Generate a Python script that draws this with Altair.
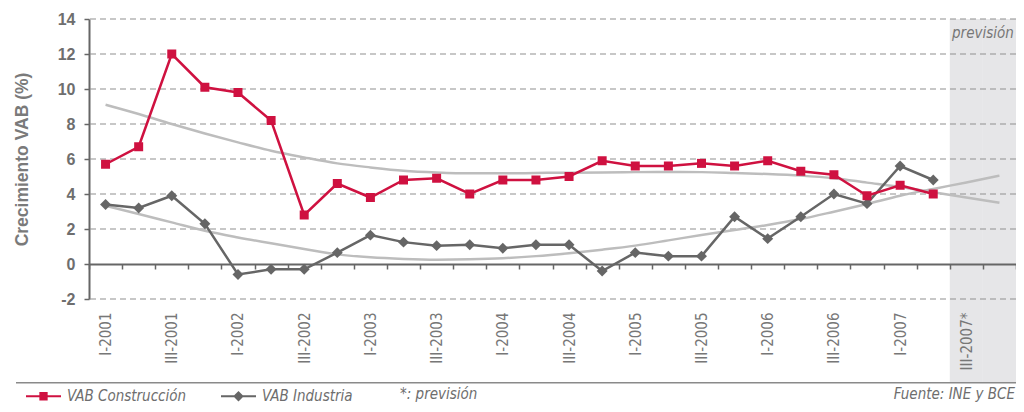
import altair as alt
import pandas as pd

quarters = [
    "I-2001", "II-2001", "III-2001", "IV-2001",
    "I-2002", "II-2002", "III-2002", "IV-2002",
    "I-2003", "II-2003", "III-2003", "IV-2003",
    "I-2004", "II-2004", "III-2004", "IV-2004",
    "I-2005", "II-2005", "III-2005", "IV-2005",
    "I-2006", "II-2006", "III-2006", "IV-2006",
    "I-2007", "II-2007", "III-2007*", "IV-2007*",
]
shown_labels = ["I-2001", "III-2001", "I-2002", "III-2002", "I-2003", "III-2003", "I-2004",
                "III-2004", "I-2005", "III-2005", "I-2006", "III-2006", "I-2007", "III-2007*"]
construccion = [5.7, 6.7, 12.0, 10.1, 9.8, 8.2, 2.8, 4.6, 3.8, 4.8, 4.9, 4.0, 4.8,
                4.8, 5.0, 5.9, 5.6, 5.6, 5.75, 5.6, 5.9, 5.3, 5.1, 3.9, 4.5, 4.0]
industria = [3.4, 3.2, 3.9, 2.3, -0.6, -0.3, -0.3, 0.65, 1.65, 1.25, 1.05, 1.1, 0.9,
             1.1, 1.1, -0.4, 0.65, 0.45, 0.45, 2.7, 1.45, 2.7, 4.0, 3.45, 5.6, 4.8]
tend_construccion = [9.1, 8.57, 8.0, 7.46, 6.95, 6.47, 6.09, 5.75, 5.52, 5.33, 5.23, 5.18,
                     5.18, 5.2, 5.22, 5.23, 5.25, 5.26, 5.25, 5.2, 5.14, 5.05, 4.9, 4.65,
                     4.4, 4.1, 3.8, 3.5]
tend_industria = [3.33, 2.86, 2.38, 1.9, 1.52, 1.18, 0.86, 0.55, 0.38, 0.29, 0.25, 0.27,
                  0.33, 0.45, 0.62, 0.82, 1.05, 1.35, 1.66, 1.94, 2.23, 2.57, 2.99, 3.43,
                  3.9, 4.29, 4.66, 5.05]
series_names = ["VAB Construcción", "VAB Industria"]
y_ticks = [-2, 0, 2, 4, 6, 8, 10, 12, 14]
grid_values = [-2, 2, 4, 6, 8, 10, 12, 14]
prevision_quarters = ["III-2007*", "IV-2007*"]
prevision_top = 14
prevision_bottom = -6.8

RED = "#cf1140"
GRAY = "#666666"
TREND = "#bdbdbd"
TXT = "#6e6e6e"
NARROW = "DejaVu Sans Condensed"
SANS = "Liberation Sans"

x_scale = alt.Scale(domain=quarters, paddingInner=0, paddingOuter=0)
y_scale = alt.Scale(domain=[-2, 14], nice=False)

label_list = "[" + ",".join(f"'{s}'" for s in shown_labels) + "]"
x_axis = alt.Axis(
    title=None, offset=-35, domainColor=GRAY, domainWidth=2,
    tickColor=GRAY, tickWidth=1.5, tickSize=5, tickBand="extent",
    labelAngle=270, labelAlign="right", labelBaseline="middle", labelPadding=43,
    labelFont=NARROW, labelFontSize=15, labelColor="#777777",
    labelOverlap=False,
    labelExpr=f"indexof({label_list}, datum.value) >= 0 ? datum.value : ''",
    grid=False,
)
y_axis = alt.Axis(
    values=y_ticks, title="Crecimiento VAB (%)", titleFont=SANS, titleFontSize=17.5,
    titleFontWeight="bold", titleColor="#7a7a7a", titlePadding=26,
    labelFont=SANS, labelFontSize=16, labelFontWeight="bold", labelColor=TXT,
    labelExpr="toString(datum.value)",
    labelPadding=9, tickSize=5, tickColor=GRAY, tickWidth=1.5,
    domainColor=GRAY, domainWidth=2, grid=False,
)


def X(field="q", **kw):
    return alt.X(f"{field}:N", scale=x_scale, axis=x_axis, **kw)


def Y(field="v"):
    return alt.Y(f"{field}:Q", scale=y_scale, axis=y_axis)


df_c = pd.DataFrame({"q": quarters[:len(construccion)], "v": construccion})
df_i = pd.DataFrame({"q": quarters[:len(industria)], "v": industria})
df_tc = pd.DataFrame({"q": quarters[:len(tend_construccion)], "v": tend_construccion})
df_ti = pd.DataFrame({"q": quarters[:len(tend_industria)], "v": tend_industria})
df_prev = pd.DataFrame({"q": prevision_quarters,
                        "top": [prevision_top] * len(prevision_quarters),
                        "bottom": [prevision_bottom] * len(prevision_quarters)})
df_grid = pd.DataFrame({"v": grid_values})

shade = alt.Chart(df_prev).mark_rect(color="#e6e6e8").encode(
    x=X(), y=Y("top"), y2=alt.Y2("bottom"))

grid = alt.Chart(df_grid).mark_rule(color="#8f8f8f", strokeWidth=1.2, strokeDash=[6, 4]).encode(
    y=Y())

trend_c = alt.Chart(df_tc).mark_line(color=TREND, strokeWidth=2.5, interpolate="monotone").encode(
    x=X(), y=Y())
trend_i = alt.Chart(df_ti).mark_line(color=TREND, strokeWidth=2.5, interpolate="monotone").encode(
    x=X(), y=Y())

line_i = alt.Chart(df_i).mark_line(color=GRAY, strokeWidth=2.5).encode(x=X(), y=Y())
pts_i = alt.Chart(df_i).mark_point(shape="diamond", filled=True, size=120, color=GRAY, opacity=1).encode(
    x=X(), y=Y())
line_c = alt.Chart(df_c).mark_line(color=RED, strokeWidth=2.5).encode(x=X(), y=Y())
pts_c = alt.Chart(df_c).mark_point(shape="square", filled=True, size=81, color=RED, opacity=1).encode(
    x=X(), y=Y())

df_prev_label = pd.DataFrame({"q": ["IV-2007*"], "v": [12.9], "t": ["previsión"]})
prev_label = alt.Chart(df_prev_label).mark_text(
    align="center", baseline="alphabetic", font=NARROW, fontSize=15, fontStyle="italic",
    color="#777777").encode(x=X(bandPosition=0), y=Y(), text="t:N")

df_notes = pd.DataFrame({"t": ["*: previsión"]})
note = alt.Chart(df_notes).mark_text(
    align="left", baseline="alphabetic", font=NARROW, fontSize=15, fontStyle="italic",
    color=TXT).encode(x=alt.value(311), y=alt.value(380), text="t:N")
df_src = pd.DataFrame({"t": ["Fuente: INE y BCE"]})
source = alt.Chart(df_src).mark_text(
    align="right", baseline="alphabetic", font=NARROW, fontSize=15, fontStyle="italic",
    color=TXT).encode(x=alt.value(926), y=alt.value(380), text="t:N")

separator = alt.Chart(df_src).mark_rule(color="#8a8a8a", strokeWidth=1.5).encode(
    x=alt.value(-73), x2=alt.value(927), y=alt.value(363.7))

path_sq = "M-1,0L1,0M-0.18,-0.18L0.18,-0.18L0.18,0.18L-0.18,0.18Z"
path_dm = "M-1,0L1,0M-0.22,0L0,-0.22L0.22,0L0,0.22Z"
leg = alt.Legend(
    title=None, orient="none", legendX=-64, legendY=358.5, direction="horizontal",
    symbolSize=1225, symbolStrokeWidth=2, labelOffset=5, columnPadding=30,
    labelFont=NARROW, labelFontSize=15, labelFontStyle="italic", labelColor=TXT,
)
# legend-only layer: its two markers sit far above the drawing, off the page
df_leg = pd.DataFrame({"serie": series_names, "q": quarters[:2], "v": [80, 80]})
legend_layer = alt.Chart(df_leg).mark_point(filled=True, opacity=1).encode(
    x=X(), y=Y(),
    fill=alt.Fill("serie:N", scale=alt.Scale(domain=series_names, range=[RED, GRAY]), legend=leg),
    stroke=alt.Stroke("serie:N", scale=alt.Scale(domain=series_names, range=[RED, GRAY]), legend=leg),
    shape=alt.Shape("serie:N", scale=alt.Scale(domain=series_names, range=[path_sq, path_dm]), legend=leg),
)

chart = alt.layer(
    shade, grid, trend_c, trend_i, line_i, pts_i, line_c, pts_c,
    prev_label, note, source, separator, legend_layer,
).properties(
    width=927, height=280,
    padding={"left": 81, "top": 11, "right": 0, "bottom": 105},
    autosize=alt.AutoSizeParams(type="none"),
    background="white",
).configure_view(stroke=None)

chart.save("out.html", embed_options={"renderer": "svg", "actions": False})
